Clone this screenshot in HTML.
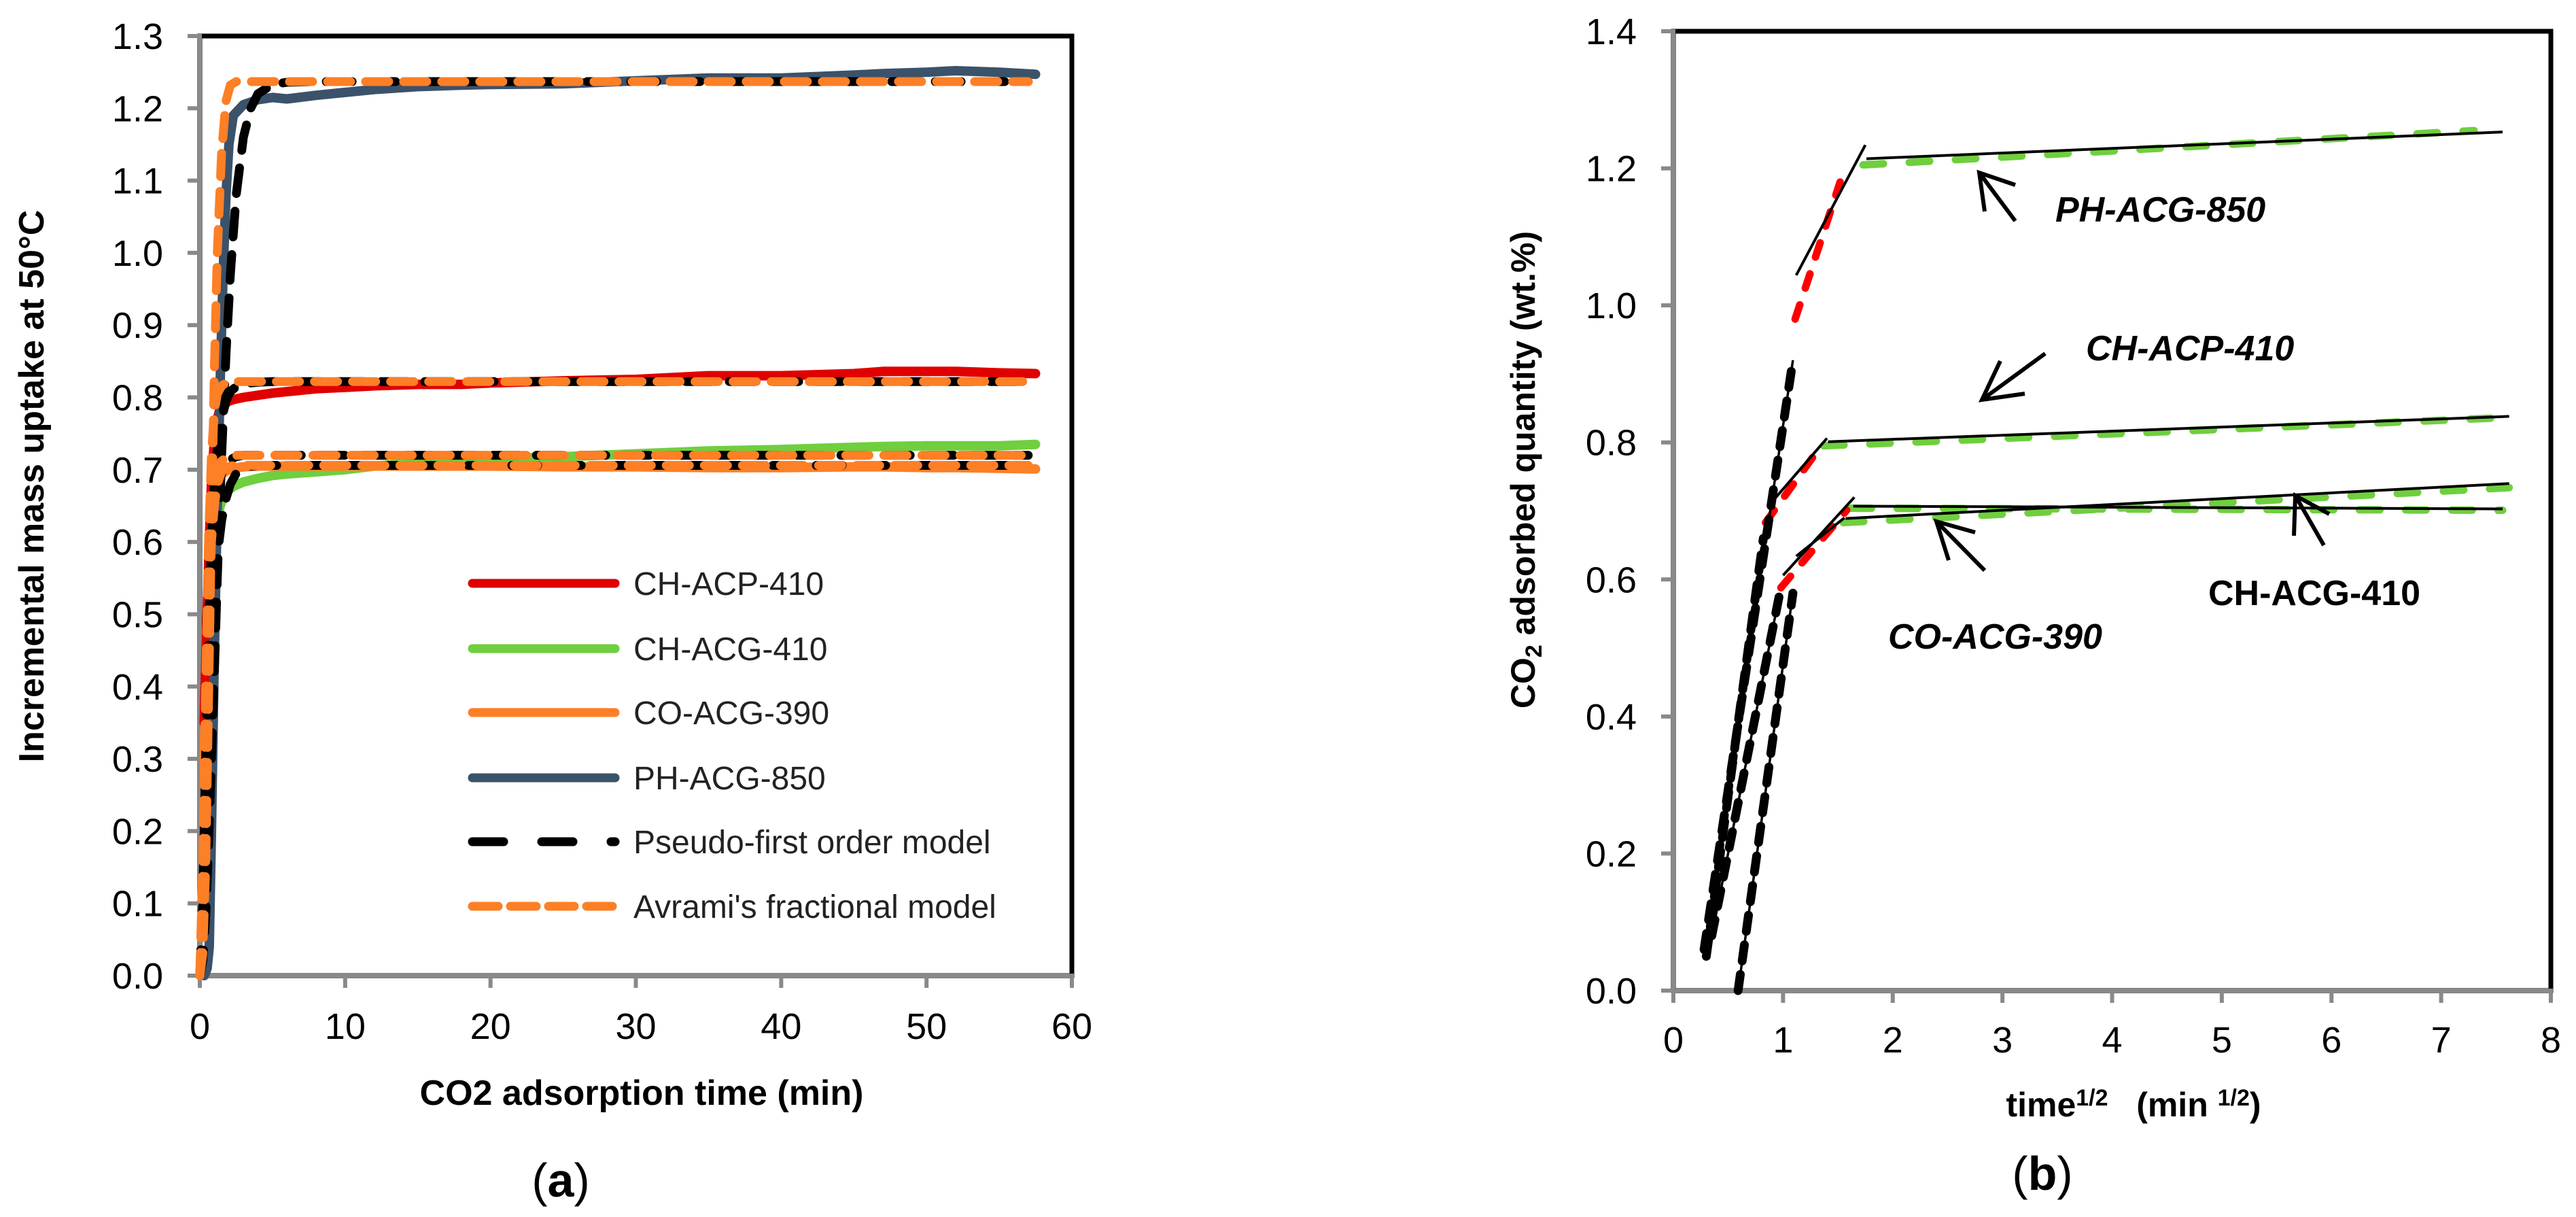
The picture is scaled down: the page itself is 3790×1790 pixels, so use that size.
<!DOCTYPE html>
<html><head><meta charset="utf-8"><style>
html,body{margin:0;padding:0;background:#fff;}
svg{display:block;}
text{font-family:"Liberation Sans",sans-serif;}
</style></head><body>
<svg id="fig" width="3790" height="1790" viewBox="0 0 3790 1790" xmlns="http://www.w3.org/2000/svg">
<g id="pa"></g>
<g id="pb"></g>
</svg>
<script>
// ---------- Panel (a) data ----------
const aXTicks = [0,10,20,30,40,50,60];
const aYTicks = [0.0,0.1,0.2,0.3,0.4,0.5,0.6,0.7,0.8,0.9,1.0,1.1,1.2,1.3];
const aTimeExp = [0.3,0.5,0.65,0.8,1.0,1.2,1.4,1.6,1.8,2.0,2.3,3,4,5,6,8,10,12,15,18,20,25,30,35,40,45,47,50,52,55,57.5];
const aPH  = [0,0.01,0.04,0.2,0.45,0.65,0.82,0.97,1.08,1.15,1.19,1.205,1.212,1.215,1.213,1.218,1.222,1.226,1.23,1.232,1.233,1.234,1.238,1.242,1.242,1.246,1.248,1.25,1.252,1.25,1.247];
const aACP = [0.35,0.5,0.6,0.68,0.74,0.77,0.785,0.79,0.792,0.795,0.797,0.8,0.803,0.806,0.808,0.812,0.814,0.816,0.818,0.818,0.82,0.823,0.825,0.83,0.83,0.833,0.836,0.836,0.836,0.834,0.833];
const aACG = [0.3,0.42,0.5,0.56,0.6,0.63,0.65,0.66,0.667,0.672,0.677,0.683,0.688,0.692,0.694,0.697,0.7,0.705,0.71,0.713,0.715,0.718,0.722,0.726,0.728,0.731,0.732,0.733,0.733,0.733,0.735];
const aCOA = [0.3,0.45,0.55,0.62,0.66,0.68,0.69,0.695,0.698,0.7,0.702,0.704,0.705,0.705,0.705,0.705,0.705,0.705,0.705,0.705,0.705,0.704,0.704,0.703,0.703,0.704,0.704,0.703,0.703,0.702,0.701];
const aTimeMod = [0,0.2,0.4,0.6,0.8,1.0,1.2,1.5,1.8,2.1,2.5,3,3.5,4,5,6,8,10,20,30,40,50,57];
const pfoPH  = [0,0.02,0.08,0.18,0.3,0.42,0.55,0.72,0.86,0.97,1.08,1.16,1.2,1.22,1.233,1.236,1.237,1.237,1.237,1.237,1.237,1.237,1.237];
const avrPH  = [0,0.03,0.15,0.38,0.62,0.84,1.0,1.14,1.21,1.232,1.237,1.237,1.237,1.237,1.237,1.237,1.237,1.237,1.237,1.237,1.237,1.237,1.237];
const pfoACP = [0,0.1,0.3,0.48,0.6,0.68,0.73,0.77,0.795,0.808,0.815,0.819,0.82,0.821,0.822,0.822,0.822,0.822,0.822,0.822,0.822,0.822,0.822];
const avrACP = [0,0.15,0.4,0.6,0.72,0.78,0.805,0.816,0.82,0.822,0.822,0.822,0.822,0.822,0.822,0.822,0.822,0.822,0.822,0.822,0.822,0.822,0.822];
const pfoACG = [0,0.08,0.22,0.36,0.46,0.53,0.58,0.63,0.66,0.68,0.695,0.702,0.705,0.706,0.706,0.706,0.706,0.706,0.706,0.706,0.706,0.706,0.706];
const avrACG = [0,0.12,0.34,0.5,0.6,0.65,0.68,0.697,0.703,0.705,0.706,0.706,0.706,0.706,0.706,0.706,0.706,0.706,0.706,0.706,0.706,0.706,0.706];
const pfoCOA = [0,0.1,0.3,0.46,0.57,0.63,0.67,0.695,0.708,0.714,0.718,0.72,0.72,0.72,0.72,0.72,0.72,0.72,0.72,0.72,0.72,0.72,0.72];
const avrCOA = [0,0.14,0.38,0.55,0.64,0.68,0.7,0.712,0.717,0.719,0.72,0.72,0.72,0.72,0.72,0.72,0.72,0.72,0.72,0.72,0.72,0.72,0.72];
const aLegendLabels = ["CH-ACP-410","CH-ACG-410","CO-ACG-390","PH-ACG-850","Pseudo-first order model","Avrami's fractional model"];

// ---------- Panel (b) data ----------
const bXTicks = [0,1,2,3,4,5,6,7,8];
const bYTicks = [0.0,0.2,0.4,0.6,0.8,1.0,1.2,1.4];
const bStage1X = [[0.28,1.09],[0.30,0.82],[0.35,0.97],[0.59,1.09]];
const bStage1Y = [[0.06,0.92],[0.05,0.66],[0.08,0.58],[0.0,0.58]];
const bStage2X = [[1.11,1.52],[0.84,1.31],[0.98,1.58]];
const bStage2Y = [[0.98,1.18],[0.683,0.787],[0.588,0.701]];
const bFit2X = [[1.12,1.75],[0.86,1.40],[1.0,1.65],[1.12,1.56]];
const bFit2Y = [[1.044,1.234],[0.706,0.806],[0.606,0.72],[0.634,0.69]];
const bStage3X = [[1.73,7.3],[1.37,7.56],[1.55,7.62],[1.62,7.56]];
const bStage3Y = [[1.205,1.255],[0.795,0.836],[0.683,0.734],[0.704,0.701]];
const bFit3X = [[1.76,7.56],[1.41,7.62],[1.57,7.62],[1.64,7.56]];
const bFit3Y = [[1.214,1.253],[0.801,0.838],[0.689,0.74],[0.707,0.703]];

const NS = "http://www.w3.org/2000/svg";
function mk(parent, tag, attrs, txt){
  const e = document.createElementNS(NS, tag);
  for (const k in attrs) e.setAttribute(k, attrs[k]);
  if (txt !== undefined) e.textContent = txt;
  parent.appendChild(e);
  return e;
}
const ax = v => 294 + (v/60)*(1577-294);
const ay = v => 1435 - (v/1.3)*(1435-53);
const bx = v => 2462 + (v/8)*(3753-2462);
const by = v => 1457 - (v/1.4)*(1457-46);

const pa = document.getElementById('pa');
const pb = document.getElementById('pb');

function frame(g, x0, y0, x1, y1){
  const r = mk(g,'rect',{x:x0,y:y0,width:x1-x0,height:y1-y0,fill:'none',stroke:'#000','stroke-width':7});
  
  
  const l = mk(g,'line',{x1:x0,y1:y0-3,x2:x0,y2:y1,stroke:'#898989','stroke-width':6});
  
  
  const b = mk(g,'line',{x1:x0,y1:y1,x2:x1+3,y2:y1,stroke:'#898989','stroke-width':6});
  
  
}
function polyPath(xs, ys, fx, fy){
  return xs.map((x,i)=>(i?'L':'M')+fx(x).toFixed(1)+' '+fy(ys[i]).toFixed(1)).join(' ');
}

// ===== Panel A =====
frame(pa,294,53,1577,1435);
aXTicks.forEach(v=>{
  const t = mk(pa,'line',{x1:ax(v),y1:1435,x2:ax(v),y2:1453,stroke:'#898989','stroke-width':6});
  
  
  const l = mk(pa,'text',{x:ax(v),y:1528,'font-size':54,'text-anchor':'middle',fill:'#000'},String(v));
  
  
});
aYTicks.forEach(v=>{
  const t = mk(pa,'line',{x1:276,y1:ay(v),x2:294,y2:ay(v),stroke:'#898989','stroke-width':6});
  
  
  const l = mk(pa,'text',{x:240,y:ay(v)+19,'font-size':54,'text-anchor':'end',fill:'#000'},v.toFixed(1));
  
  
});
const aSeries = [
  [aTimeExp,aACG,'#6fcf3e','series-ch-acg-410'],
  [aTimeExp,aCOA,'#fd7f26','series-co-acg-390'],
  [aTimeExp,aACP,'#e00000','series-ch-acp-410'],
  [aTimeExp,aPH,'#3b526b','series-ph-acg-850']
];
aSeries.forEach(s=>{
  const p = mk(pa,'path',{d:polyPath(s[0],s[1],ax,ay),fill:'none',stroke:s[2],'stroke-width':14,'stroke-linejoin':'round','stroke-linecap':'round'});
  
  
});
const aModels = [
  [pfoACG,'#000','model-pfo-ch-acg'],[pfoCOA,'#000','model-pfo-co-acg'],[pfoACP,'#000','model-pfo-ch-acp'],[pfoPH,'#000','model-pfo-ph-acg'],
  [avrACG,'#fd7f26','model-avrami-ch-acg'],[avrCOA,'#fd7f26','model-avrami-co-acg'],[avrACP,'#fd7f26','model-avrami-ch-acp'],[avrPH,'#fd7f26','model-avrami-ph-acg']
];
aModels.forEach(m=>{
  const isBlack = m[1]==='#000';
  const p = mk(pa,'path',{d:polyPath(aTimeMod,m[0],ax,ay),fill:'none',stroke:m[1],'stroke-width':13,'stroke-linecap':'round','stroke-dasharray':isBlack?'38 26':'34 22'});
  
  
});
const legY = [858,954,1048,1144,1238,1333];
const legCol = ['#e00000','#6fcf3e','#fd7f26','#3b526b','#000','#fd7f26'];
const legDash = [null,null,null,null,'46 56','38 18'];
const leg = mk(pa,'g',{});


aLegendLabels.forEach((lab,i)=>{
  const a = {x1:695,y1:legY[i],x2:905,y2:legY[i],stroke:legCol[i],'stroke-width':13,'stroke-linecap':'round'};
  if (legDash[i]) a['stroke-dasharray']=legDash[i];
  const ln = mk(leg,'line',a);
  
  
  const t = mk(leg,'text',{x:932,y:legY[i]+17,'font-size':48,fill:'#222'},lab);
  
  
});
let t;
t = mk(pa,'text',{x:944,y:1625,'font-size':52,'font-weight':'bold','text-anchor':'middle'},'CO2 adsorption time (min)');


t = mk(pa,'text',{x:0,y:0,'font-size':52,'font-weight':'bold','text-anchor':'middle',transform:'translate(64,715) rotate(-90)'},'Incremental mass uptake at 50°C');


t = mk(pa,'text',{x:825,y:1760,'font-size':70,'text-anchor':'middle','font-family':'"Liberation Serif",serif'});
t.innerHTML = '(<tspan font-weight="bold">a</tspan>)';



// ===== Panel B =====
frame(pb,2462,46,3753,1457);
bXTicks.forEach(v=>{
  const k = mk(pb,'line',{x1:bx(v),y1:1457,x2:bx(v),y2:1475,stroke:'#898989','stroke-width':6});
  
  
  const l = mk(pb,'text',{x:bx(v),y:1548,'font-size':54,'text-anchor':'middle'},String(v));
  
  
});
bYTicks.forEach(v=>{
  const k = mk(pb,'line',{x1:2444,y1:by(v),x2:2462,y2:by(v),stroke:'#898989','stroke-width':6});
  
  
  const l = mk(pb,'text',{x:2408,y:by(v)+19,'font-size':54,'text-anchor':'end'},v.toFixed(1));
  
  
});
function seg(g,xs,ys,attrs,name){
  const a = Object.assign({x1:bx(xs[0]),y1:by(ys[0]),x2:bx(xs[1]),y2:by(ys[1])},attrs);
  const e = mk(g,'line',a);
  
  
}
bStage3X.forEach((xs,i)=>seg(pb,xs,bStage3Y[i],{stroke:'#6fcf3e','stroke-width':11,'stroke-linecap':'round','stroke-dasharray':'30 38'},'stage3-data'));
bStage2X.forEach((xs,i)=>seg(pb,xs,bStage2Y[i],{stroke:'#f00','stroke-width':11,'stroke-linecap':'round','stroke-dasharray':'22 26'},'stage2-data'));
bStage1X.forEach((xs,i)=>seg(pb,xs,bStage1Y[i],{stroke:'#000','stroke-width':13,'stroke-linecap':'round','stroke-dasharray':'24 20'},'stage1-data'));
bStage1X.forEach((xs,i)=>seg(pb,xs,bStage1Y[i],{stroke:'#000','stroke-width':3.5},'stage1-fit'));
bFit2X.forEach((xs,i)=>seg(pb,xs,bFit2Y[i],{stroke:'#000','stroke-width':4},'stage2-fit'));
bFit3X.forEach((xs,i)=>seg(pb,xs,bFit3Y[i],{stroke:'#000','stroke-width':4},'stage3-fit'));
const arrows = [
  [[2965,325],[2912,254],[2920,311],[2965,272],'arrow-ph-acg-850'],
  [[3009,520],[2916,588],[2943,531],[2979,579],'arrow-ch-acp-410'],
  [[2920,839],[2849,767],[2867,824],[2906,783],'arrow-co-acg-390'],
  [[3419,802],[3377,729],[3375,788],[3427,756],'arrow-ch-acg-410']
];
arrows.forEach(a=>{
  const p = mk(pb,'path',{d:`M${a[0][0]} ${a[0][1]} L${a[1][0]} ${a[1][1]} M${a[2][0]} ${a[2][1]} L${a[1][0]} ${a[1][1]} L${a[3][0]} ${a[3][1]}`,fill:'none',stroke:'#000','stroke-width':6});
  
  
});
const labs = [[3024,326,'PH-ACG-850',true,'label-ph-acg-850'],[3069,530,'CH-ACP-410',true,'label-ch-acp-410'],[2778,954,'CO-ACG-390',true,'label-co-acg-390'],[3249,890,'CH-ACG-410',false,'label-ch-acg-410']];
labs.forEach(l=>{
  const a = {x:l[0],y:l[1],'font-size':52,'font-weight':'bold'};
  if (l[3]) a['font-style']='italic';
  const e = mk(pb,'text',a,l[2]);
  
  
});
t = mk(pb,'text',{x:3139,y:1642,'font-size':50,'font-weight':'bold','text-anchor':'middle'});
t.innerHTML = 'time<tspan font-size="34" dy="-16">1/2</tspan><tspan dy="16" xml:space="preserve">   (min </tspan><tspan font-size="34" dy="-16">1/2</tspan><tspan dy="16">)</tspan>';


t = mk(pb,'text',{x:0,y:0,'font-size':50,'font-weight':'bold','text-anchor':'middle',transform:'translate(2258,691) rotate(-90)'});
t.innerHTML = 'CO<tspan font-size="34" dy="10">2</tspan><tspan dy="-10"> adsorbed quantity (wt.%)</tspan>';


t = mk(pb,'text',{x:3005,y:1750,'font-size':70,'text-anchor':'middle','font-family':'"Liberation Serif",serif'});
t.innerHTML = '(<tspan font-weight="bold">b</tspan>)';


</script>
</body></html>
